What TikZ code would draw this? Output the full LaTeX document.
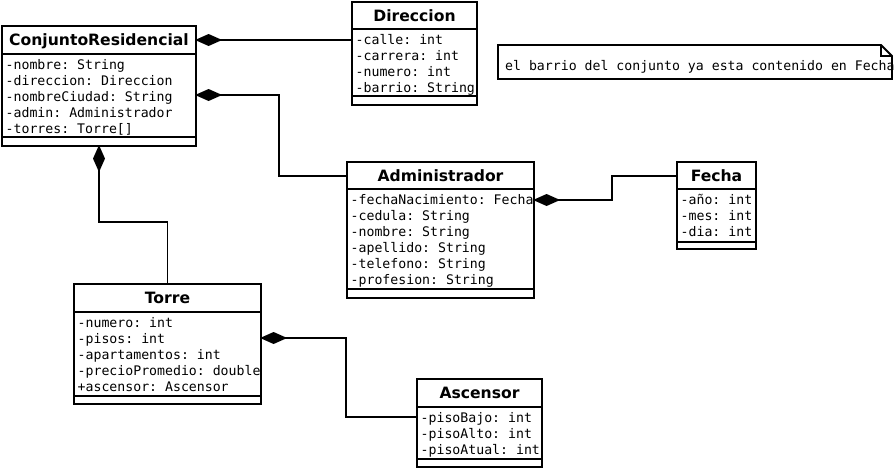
\documentclass[tikz,border=0pt]{standalone}
\usepackage{fontspec}
\setsansfont{DejaVu Sans}
\setmonofont{DejaVu Sans Mono}
\usetikzlibrary{arrows.meta}
\tikzset{
  boxline/.style={line width=1.8pt},
  classbox/.style={draw, boxline, inner sep=0pt, outer sep=0pt, anchor=north west},
  titletext/.style={inner sep=0pt, anchor=base, font=\sffamily\bfseries\fontsize{15.6}{18}\selectfont},
  attr/.style={inner sep=0pt, anchor=base west, font=\ttfamily\fontsize{13.2}{16}\selectfont},
  comp/.style={boxline, shorten <=-0.9pt, {Diamond[length=27pt,width=12pt]}-},
}
\newcommand\umlclass[9]{%
  \pgfmathsetmacro\cw{#4-#2}%
  \pgfmathsetmacro\ch{#5-#3}%
  \pgfmathsetmacro\cx{(#2+#4)/2}%
  \pgfmathsetmacro\ty{(#3+#6)/2+5.6}%
  \node[classbox, minimum width=\cw pt, minimum height=\ch pt] (#1) at (#2,#3) {};
  \draw[boxline] (#1.west |- 0,#6) -- (#1.east |- 0,#6);
  \draw[boxline] (#1.west |- 0,#7) -- (#1.east |- 0,#7);
  \node[titletext] (#1-t) at (\cx,\ty) {#8};
  \foreach \a [count=\i] in {#9} {
    \node[attr] (#1-a\i) at (#2+3.5, #6+15+16*\i-16) {\a};
  }
}
\begin{document}
\begin{tikzpicture}[x=1pt,y=-1pt]
\useasboundingbox (0,0) rectangle (895,469);
\umlclass{cr}{2}{26}{196}{146}{54}{137}{ConjuntoResidencial}{-nombre: String,-direccion: Direccion,-nombreCiudad: String,-admin: Administrador,-torres: Torre[]}
\umlclass{dir}{352}{2}{477}{105}{29}{96}{Direccion}{-calle: int,-carrera: int,-numero: int,-barrio: String}
\umlclass{adm}{347}{162}{534}{298}{189}{289}{Administrador}{-fechaNacimiento: Fecha,-cedula: String,-nombre: String,-apellido: String,-telefono: String,-profesion: String}
\umlclass{fecha}{677}{162}{756}{249}{189}{242}{Fecha}{-año: int,-mes: int,-dia: int}
\umlclass{torre}{74}{284}{261}{404}{312}{396}{Torre}{-numero: int,-pisos: int,-apartamentos: int,-precioPromedio: double,+ascensor: Ascensor}
\umlclass{asc}{417}{379}{542}{467}{407}{459}{Ascensor}{-pisoBajo: int,-pisoAlto: int,-pisoAtual: int}
% note
\draw[boxline] (498,45) -- (881,45) -- (892,56) -- (892,79) -- (498,79) -- cycle;
\draw[line width=1.2pt] (881,45) -- (881,56) -- (892,56);
\node[attr] (note) at (505,70) {el barrio del conjunto ya esta contenido en Fecha};
% connectors
\draw[comp] (cr.east |- 0,40) -- (dir.west |- 0,40);
\draw[comp] (cr.east |- 0,95) -- ++(83,0) |- (adm.west |- 0,176);
\draw[comp] (adm.east |- 0,200) -- ++(78,0) |- (fecha.west |- 0,176);
\draw[comp] (cr.south -| 99,0) |- (torre.north |- 0,222) -- (torre.north);
\draw[comp] (torre.east |- 0,338) -- ++(85,0) |- (asc.west |- 0,417);
\end{tikzpicture}
\end{document}
